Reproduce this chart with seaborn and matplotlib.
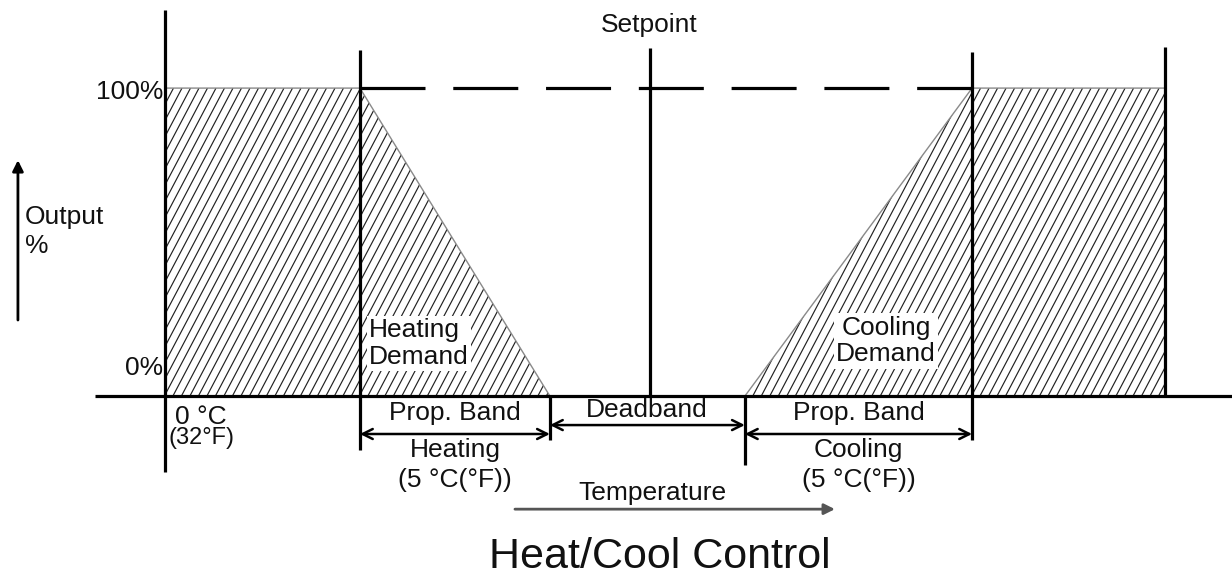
import numpy as np
import matplotlib
matplotlib.use("Agg")
import matplotlib.pyplot as plt
from matplotlib.patches import Polygon
from matplotlib.collections import LineCollection
import pandas as pd
import seaborn as sns

# temperature breakpoints (diagram units, 0 = 0 °C)
zone_names = ["zero", "heat_start", "heat_end", "setpoint", "cool_start", "cool_end", "right_end"]
zone_temps = [0.0, 5.13, 10.13, 12.76, 15.26, 21.24, 26.32]
output_levels = [0, 100]   # %

# output profile through the zones
profile_temp = [0.0, 0.0, 5.13, 10.13, 15.26, 21.24, 26.32, 26.32]
profile_out = [0, 100, 100, 0, 0, 100, 100, 0]

T = dict(zip(zone_names, zone_temps))
LO, HI = output_levels

sns.set_theme(style="white")
plt.rcParams["font.family"] = ["Liberation Sans", "DejaVu Sans"]
plt.rcParams["text.color"] = "#111111"

fig = plt.figure(figsize=(12.32, 5.8), dpi=100)
ax = fig.add_axes([0, 0, 1, 1])
ax.set_xlim(-4.342, 28.08)
ax.set_ylim(-59.7, 128.6)
ax.set_axis_off()

# pixels per data unit
p0, p1 = ax.transData.transform([[0, 0], [1, 1]])
px_x, px_y = p1 - p0


def hatch(xs, ys, spacing_px=8.5, slope_px=1.9):
    poly = Polygon(np.column_stack([xs, ys]), closed=True, fc="none", ec="none")
    ax.add_patch(poly)
    k = slope_px * px_x / px_y
    x0, x1 = min(xs), max(xs)
    y0, y1 = min(ys), max(ys)
    span = (y1 - y0) / k
    step = spacing_px / px_x
    cs = np.arange(x0 - span, x1 + step, step)
    segs = [[(c, y0), (c + span, y1)] for c in cs]
    lc = LineCollection(segs, colors="#222222", linewidths=0.85)
    ax.add_collection(lc)
    lc.set_clip_path(poly)


# hatched demand areas
hatch([T["zero"], T["zero"], T["heat_start"], T["heat_start"]], [LO, HI, HI, LO])
hatch([T["heat_start"], T["heat_start"], T["heat_end"]], [LO, HI, LO])
hatch([T["cool_start"], T["cool_end"], T["cool_end"]], [LO, HI, LO])
hatch([T["cool_end"], T["cool_end"], T["right_end"], T["right_end"]], [LO, HI, HI, LO])

prof = pd.DataFrame({"temp": profile_temp, "out": profile_out})
sns.lineplot(data=prof, x="temp", y="out", sort=False, estimator=None,
             color="#8a8a8a", lw=1.0, ax=ax)

lw = 2.3
k = dict(color="black", lw=lw, solid_capstyle="butt")
# baseline
ax.plot([-1.84, 28.08], [LO, LO], **k)
# vertical lines
ax.plot([T["zero"]] * 2, [-24.7, 125.3], **k)
ax.plot([T["heat_start"]] * 2, [-17.5, 112.3], **k)
ax.plot([T["setpoint"]] * 2, [LO, 113.0], **k)
ax.plot([T["cool_end"]] * 2, [-14.3, 111.7], **k)
ax.plot([T["right_end"]] * 2, [LO, 113.3], **k)
ax.plot([T["heat_end"]] * 2, [-14.3, LO], **k)
ax.plot([T["cool_start"]] * 2, [-22.4, LO], **k)
# dashed 100% line
ax.plot([T["heat_start"], T["cool_end"]], [HI, HI], color="black", lw=lw,
        linestyle=(0, (46.8 / lw, 20.0 / lw)), dash_capstyle="butt")

# dimension arrows
arr = dict(arrowstyle="<->", color="black", lw=1.8, shrinkA=0, shrinkB=0,
           mutation_scale=18)
ax.annotate("", xy=(T["heat_end"], -12.3), xytext=(T["heat_start"], -12.3), arrowprops=arr)
ax.annotate("", xy=(T["cool_start"], -9.4), xytext=(T["heat_end"], -9.4), arrowprops=arr)
ax.annotate("", xy=(T["cool_end"], -12.3), xytext=(T["cool_start"], -12.3), arrowprops=arr)

# axis direction arrows
ax.annotate("", xy=(-3.87, 76.6), xytext=(-3.87, 24.7),
            arrowprops=dict(arrowstyle="-|>", color="black", lw=2, shrinkA=0, shrinkB=0,
                            mutation_scale=16))
ax.annotate("", xy=(17.63, -36.7), xytext=(9.21, -36.7),
            arrowprops=dict(arrowstyle="-|>", color="#555555", lw=2, shrinkA=0, shrinkB=0,
                            mutation_scale=16))

fs = 19
ax.text(12.74, 120.5, "Setpoint", ha="center", va="center", fontsize=fs)
ax.text(-0.05, 98.7, "100%", ha="right", va="center", fontsize=fs)
ax.text(-0.05, 9.1, "0%", ha="right", va="center", fontsize=fs)
ax.text(-3.68, 53.4, "Output\n%", ha="left", va="center", fontsize=fs, linespacing=1.25)

box = dict(facecolor="white", edgecolor="none", pad=1.5)
ax.text(5.36, 17.0, "Heating\nDemand", ha="left", va="center", fontsize=fs,
        linespacing=1.15, bbox=box)
ax.text(18.97, 17.9, "Cooling\nDemand", ha="center", va="center", fontsize=fs,
        linespacing=1.15, bbox=box)

ax.text(0.26, -6.8, "0 °C", ha="left", va="center", fontsize=fs)
ax.text(0.1, -13.6, "(32°F)", ha="left", va="center", fontsize=17)

for centre, name in [((T["heat_start"] + T["heat_end"]) / 2, "Heating"),
                     ((T["cool_start"] + T["cool_end"]) / 2, "Cooling")]:
    ax.text(centre, -5.5, "Prop. Band", ha="center", va="center", fontsize=fs)
    ax.text(centre, -17.5, name, ha="center", va="center", fontsize=fs)
    ax.text(centre, -27.3, "(5 °C(°F))", ha="center", va="center", fontsize=fs)

ax.text(12.68, -4.5, "Deadband", ha="center", va="center", fontsize=fs)
ax.text(12.84, -31.5, "Temperature", ha="center", va="center", fontsize=fs)
ax.text(13.03, -52.3, "Heat/Cool Control", ha="center", va="center", fontsize=31)

fig.savefig("out.png", dpi=100)
